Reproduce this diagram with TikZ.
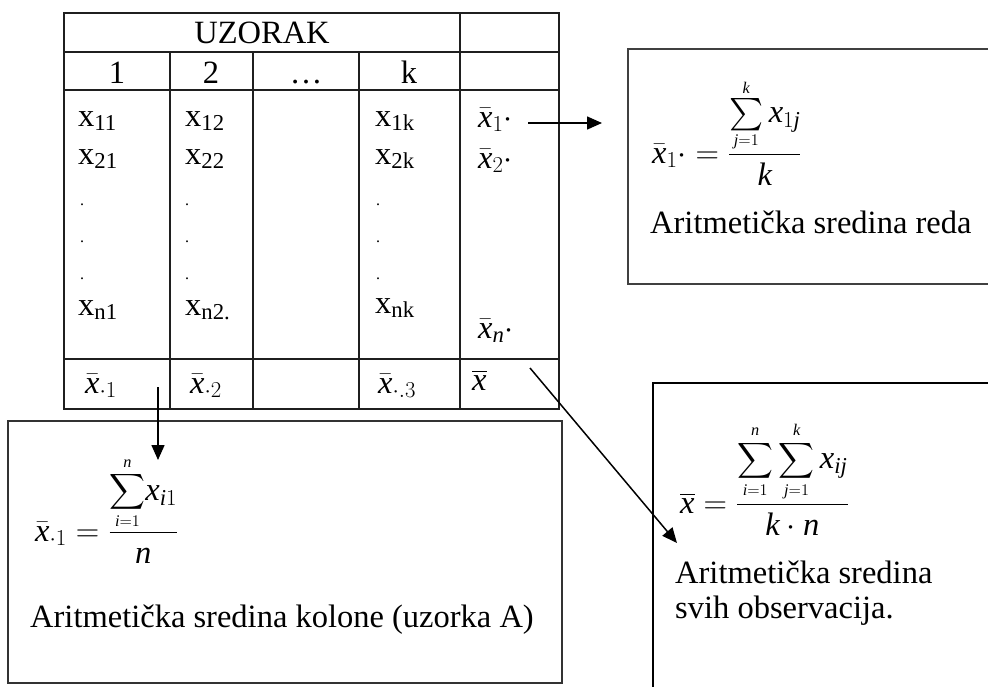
\RequirePackage{fix-cm}
\documentclass[tikz,border=0pt]{standalone}
\usepackage{exscale}
\usepackage{fontspec}
\setmainfont{Liberation Serif}
\usetikzlibrary{arrows.meta}
\newcommand{\mvar}[1]{\mathit{#1}}
\newcommand{\bigsum}{\mathop{\vcenter{\hbox{\scalebox{1.3}{$\textstyle\sum$}}}}\limits}
\begin{document}
\begin{tikzpicture}[x=1pt,y=-1pt,
  font=\fontsize{32.5}{39}\selectfont,
  tline/.style={line width=1.5pt, draw=black!88},
  cell/.style={anchor=base, inner sep=0pt},
  lcell/.style={anchor=base west, inner sep=0pt},
  dotc/.style={anchor=base, inner sep=0pt, font=\fontsize{16}{16}\selectfont},
  arr/.style={line width=1.5pt, -{Triangle[length=15pt,width=13pt]}}]
\useasboundingbox (0,0) rectangle (988,686);

% table grid
\draw[tline] (64,13) rectangle (559,409);
\draw[tline] (64,52) -- (559,52);
\draw[tline] (64,90) -- (559,90);
\draw[tline] (64,359) -- (559,359);
\draw[tline] (460,13) -- (460,409);
\foreach \x in {170,253,359} \draw[tline] (\x,52) -- (\x,409);

% header
\node[cell] (uz) at (262,43) {UZORAK};
\node[cell] (c1) at (117,83) {1};
\node[cell] (c2) at (211,83) {2};
\node[cell] (c3) at (306,83) {\ldots};
\node[cell] (ck) at (409,83) {k};

% body
\node[lcell] (x11) at (78,126) {x\textsubscript{11}};
\node[lcell] (x21) at (78,164) {x\textsubscript{21}};
\node[lcell] (x12) at (185,126) {x\textsubscript{12}};
\node[lcell] (x22) at (185,164) {x\textsubscript{22}};
\node[lcell] (x1k) at (375,126) {x\textsubscript{1k}};
\node[lcell] (x2k) at (375,164) {x\textsubscript{2k}};
\foreach \x/\n in {82/a,187/b,378/c}{
  \node[dotc] (d1\n) at (\x,205) {.};
  \node[dotc] (d2\n) at (\x,242) {.};
  \node[dotc] (d3\n) at (\x,279) {.};
}
\node[lcell] (xn1) at (78,315) {x\textsubscript{n1}};
\node[lcell] (xn2) at (185,315) {x\textsubscript{n2.}};
\node[lcell] (xnk) at (375,313) {x\textsubscript{nk}};

% row means
\node[lcell] (m1) at (478,127) {$\bar{\mvar{x}}_{1}{\cdot}$};
\node[lcell] (m2) at (478,168) {$\bar{\mvar{x}}_{2}{\cdot}$};
\node[lcell] (mn) at (478,338) {$\bar{\mvar{x}}_{\mvar{n}}{\cdot}$};

% column means
\node[lcell] (k1) at (85,393) {$\bar{\mvar{x}}_{\cdot 1}$};
\node[lcell] (k2) at (190,393) {$\bar{\mvar{x}}_{\cdot 2}$};
\node[lcell] (k3) at (378,393) {$\bar{\mvar{x}}_{\cdot .3}$};
\node[lcell] (gm) at (472,390) {$\overline{\mvar{x}}$};

% top-right box
\draw[line width=1.3pt, draw=black!75] (992,49) -- (628,49) -- (628,284) -- (992,284);
\node[lcell] (f1) at (652,163) {$\displaystyle \bar{\mvar{x}}_{1}{\cdot} = \frac{\bigsum_{\scriptscriptstyle \mvar{j}=1}^{\scriptscriptstyle \mvar{k}} \mvar{x}_{1\mvar{j}}}{\mvar{k}}$};
\node[lcell] (t1) at (650,233) {Aritmetička sredina reda};

% bottom-left box
\draw[line width=1.5pt, draw=black!80] (8,421) rectangle (562,683);
\node[lcell] (f2) at (35,541) {$\displaystyle \bar{\mvar{x}}_{\cdot 1} = \frac{\displaystyle\sum_{\scriptscriptstyle \mvar{i}=1}^{\scriptscriptstyle \mvar{n}}\! \mvar{x}_{\mvar{i}1}}{\mvar{n}}$};
\node[lcell] (t2) at (30,627) {Aritmetička sredina kolone (uzorka A)};

% bottom-right box
\draw[line width=2.5pt] (992,383) -- (653,383) -- (653,690);
\node[lcell] (f3) at (680,513) {$\displaystyle \overline{\mvar{x}} = \frac{\displaystyle\sum_{\scriptscriptstyle \mvar{i}=1}^{\scriptscriptstyle \mvar{n}}\sum_{\scriptscriptstyle \mvar{j}=1}^{\scriptscriptstyle \mvar{k}} \mvar{x}_{\mvar{ij}}}{\mvar{k}\cdot \mvar{n}}$};
\node[lcell] (t3) at (675,583) {Aritmetička sredina};
\node[lcell] (t4) at (675,618) {svih observacija.};

% connectors
\coordinate (a1s) at (528,123);
\coordinate (a1e) at (602,123);
\coordinate (a2s) at (158,387);
\coordinate (a2e) at (158,460);
\coordinate (a3s) at (530,368);
\coordinate (a3e) at (677,543);
\draw[arr] (a1s) -- (a1e);
\draw[arr] (a2s) -- (a2e);
\draw[arr] (a3s) -- (a3e);
\end{tikzpicture}
\end{document}
